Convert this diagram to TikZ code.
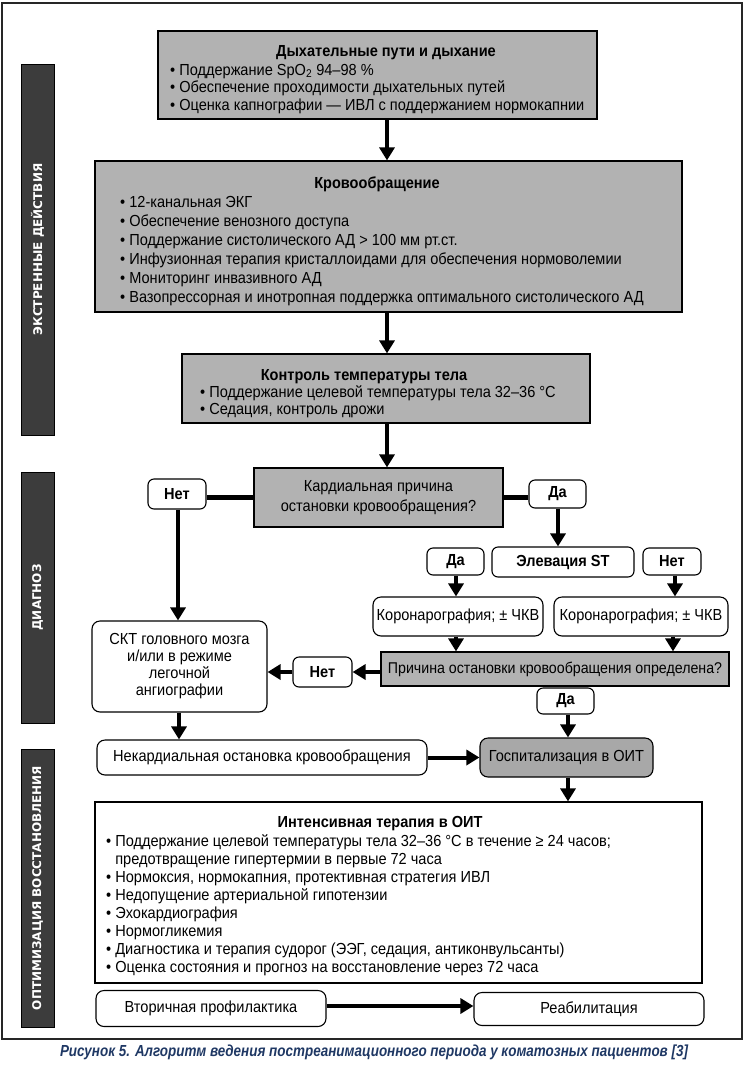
\documentclass[tikz,border=0pt]{standalone}
\usepackage{fontspec}
\setmainfont{Liberation Sans}[FakeStretch=0.91]
\newfontfamily\capfont{Liberation Sans}[FakeStretch=0.84]
\newfontfamily\sidefont{DejaVu Sans}
\usetikzlibrary{arrows.meta}
\definecolor{boxgray}{RGB}{178,178,178}
\definecolor{hospgray}{RGB}{168,168,168}
\definecolor{sidegray}{RGB}{60,60,60}
\definecolor{capblue}{RGB}{31,56,100}
\begin{document}
\begin{tikzpicture}[x=1pt,y=-1pt,
  gbox/.style={draw=black, line width=1.2pt, fill=boxgray, inner sep=0pt, rectangle},
  wbox/.style={draw=black, line width=1.2pt, fill=white, inner sep=0pt, rectangle},
  rbox/.style={draw=black, line width=1.1pt, fill=white, rounded corners=8pt, inner sep=0pt, align=center, font=\fontsize{16}{17}\selectfont},
  lbl/.style={draw=black, line width=1.1pt, fill=white, rounded corners=6pt, inner sep=0pt, font=\bfseries\fontsize{16}{17}\selectfont},
  side/.style={draw=black, line width=0.8pt, fill=sidegray, rotate=90, minimum height=33pt, inner sep=0pt, text=white, font=\sidefont\bfseries\fontsize{12}{13}\selectfont},
  txt/.style={inner sep=0pt, font=\fontsize{16}{17}\selectfont},
  ttl/.style={inner sep=0pt, font=\bfseries\fontsize{16}{17}\selectfont},
  arr/.style={line width=4pt, -{Triangle[width=15pt,length=13pt]}},
  link/.style={line width=5pt}
]
\useasboundingbox (0,0) rectangle (748,1072);
\draw[line width=1.3pt, draw=black!85] (2,3) rectangle (742,1039);

% sidebars
\node[side, minimum width=371pt] (s1) at (37.5,249.5) {ЭКСТРЕННЫЕ ДЕЙСТВИЯ};
\node[side, minimum width=251pt] (s2) at (37.5,597.5) {ДИАГНОЗ};
\node[side, minimum width=278pt] (s3) at (37.5,888) {ОПТИМИЗАЦИЯ ВОССТАНОВЛЕНИЯ};

% column coordinates
\coordinate (cA) at (387,0);

% box 1
\node[gbox, minimum width=439pt, minimum height=88pt] (b1) at (377.5,75) {};
\node[ttl, anchor=base] (b1t) at (386,56) {Дыхательные пути и дыхание};
\node[txt, anchor=base west] (b1l1) at (170,75) {\textbullet\ Поддержание SpO\textsubscript{2} 94–98 \%};
\node[txt, anchor=base west] (b1l2) at (170,92.5) {\textbullet\ Обеспечение проходимости дыхательных путей};
\node[txt, anchor=base west] (b1l3) at (170,110) {\textbullet\ Оценка капнографии — ИВЛ с поддержанием нормокапнии};

% box 2
\node[gbox, minimum width=587pt, minimum height=151pt] (b2) at (388.5,236.5) {};
\node[ttl, anchor=base] (b2t) at (377,188) {Кровообращение};
\foreach \t [count=\i] in {12-канальная ЭКГ, Обеспечение венозного доступа, Поддержание систолического АД > 100 мм рт.ст., Инфузионная терапия кристаллоидами для обеспечения нормоволемии, Мониторинг инвазивного АД, Вазопрессорная и инотропная поддержка оптимального систолического АД}
  \node[txt, anchor=base west] (b2l\i) at (120,{207.5+19*(\i-1)}) {\textbullet\ \t};

% box 3
\node[gbox, minimum width=408pt, minimum height=69pt] (b3) at (386,388.5) {};
\node[ttl, anchor=base] (b3t) at (364,380.5) {Контроль температуры тела};
\node[txt, anchor=base west] (b3l1) at (200,397.5) {\textbullet\ Поддержание целевой температуры тела 32–36 °C};
\node[txt, anchor=base west] (b3l2) at (200,414.5) {\textbullet\ Седация, контроль дрожи};

% decision
\node[gbox, minimum width=249pt, minimum height=59pt, align=center, font=\fontsize{16}{20}\selectfont] (dec) at (378.5,497.5) {Кардиальная причина\\остановки кровообращения?};
\node[lbl, minimum width=58pt, minimum height=30pt] (no1) at (177,494) {Нет};
\node[lbl, minimum width=57pt, minimum height=28pt] (yes1) at (557.5,494) {Да};
\node[lbl, minimum width=142pt, minimum height=30pt] (elev) at (563,562) {Элевация ST};
\node[lbl, minimum width=57pt, minimum height=27pt] (yes2) at (455.5,561.5) {Да};
\node[lbl, minimum width=58pt, minimum height=27pt] (no2) at (672,561.5) {Нет};
\node[rbox, minimum width=170pt, minimum height=39pt] (cor1) at (458,616.5) {Коронарография; ± ЧКВ};
\node[rbox, minimum width=174pt, minimum height=39pt] (cor2) at (641,616.5) {Коронарография; ± ЧКВ};
\node[gbox, minimum width=348pt, minimum height=34pt, font=\fontsize{15.6}{17}\selectfont] (cause) at (555,669) {Причина остановки кровообращения определена?};
\node[lbl, minimum width=59pt, minimum height=30pt] (no3) at (322.5,672) {Нет};
\node[rbox, minimum width=175pt, minimum height=91pt, font=\fontsize{16}{17}\selectfont] (skt) at (179.5,666.5) {СКТ головного мозга\\и/или в режиме\\легочной\\ангиографии};
\node[lbl, minimum width=57pt, minimum height=26pt] (yes3) at (565.5,701) {Да};
\node[rbox, minimum width=330pt, minimum height=35pt] (nonc) at (262,757.5) {Некардиальная остановка кровообращения};
\node[rbox, fill=hospgray, minimum width=173pt, minimum height=39pt] (hosp) at (566.5,757.5) {Госпитализация в ОИТ};

% ICU box
\node[wbox, minimum width=607pt, minimum height=181pt] (icu) at (398.5,892.5) {};
\node[ttl, anchor=base] (icut) at (380,827) {Интенсивная терапия в ОИТ};
\node[txt, anchor=base west] (icu1) at (106,846.5) {\textbullet\ Поддержание целевой температуры тела 32–36 °C в течение ≥ 24 часов;};
\node[txt, anchor=base west] (icu2) at (106,864.5) {\phantom{\textbullet\ }предотвращение гипертермии в первые 72 часа};
\node[txt, anchor=base west] (icu3) at (106,882.5) {\textbullet\ Нормоксия, нормокапния, протективная стратегия ИВЛ};
\node[txt, anchor=base west] (icu4) at (106,900.5) {\textbullet\ Недопущение артериальной гипотензии};
\node[txt, anchor=base west] (icu5) at (106,918.5) {\textbullet\ Эхокардиография};
\node[txt, anchor=base west] (icu6) at (106,936.5) {\textbullet\ Нормогликемия};
\node[txt, anchor=base west] (icu7) at (106,954.5) {\textbullet\ Диагностика и терапия судорог (ЭЭГ, седация, антиконвульсанты)};
\node[txt, anchor=base west] (icu8) at (106,972.5) {\textbullet\ Оценка состояния и прогноз на восстановление через 72 часа};

\node[rbox, minimum width=230pt, minimum height=36pt] (sec) at (211,1008.5) {Вторичная профилактика};
\node[rbox, minimum width=230pt, minimum height=33pt] (rehab) at (589,1009) {Реабилитация};

% caption
\node[inner sep=0pt, text=capblue, font=\capfont\bfseries\itshape\fontsize{16}{17}\selectfont] (cap) at (374,1052) {Рисунок 5. Алгоритм ведения постреанимационного периода у коматозных пациентов [3]};

% connectors
\draw[arr] (b1.south -| cA) -- (b2.north -| cA);
\draw[arr] (b2.south -| cA) -- (b3.north -| cA);
\draw[arr] (b3.south -| cA) -- (dec.north -| cA);
\draw[link] (dec.west) -- (dec.west -| no1.east);
\draw[link] (dec.east) -- (dec.east -| yes1.west);
\draw[arr] (no1.south -| 178,0) -- (skt.north -| 178,0);
\draw[arr] (yes1.south -| 558,0) -- (elev.north -| 558,0);
\draw[arr] (yes2.south -| 456,0) -- (cor1.north -| 456,0);
\draw[arr] (no2.south -| 675,0) -- (cor2.north -| 675,0);
\draw[arr] (cor1.south -| 456,0) -- (cause.north -| 456,0);
\draw[arr] (cor2.south -| 673,0) -- (cause.north -| 673,0);
\draw[arr] (cause.west |- no3.east) -- (no3.east);
\draw[arr] (no3.west) -- (skt.east |- no3.west);
\draw[arr] (yes3.south -| 568,0) -- (hosp.north -| 568,0);
\draw[arr] (skt.south -| 179,0) -- (nonc.north -| 179,0);
\draw[arr] (nonc.east) -- (hosp.west |- nonc.east);
\draw[arr] (hosp.south -| 568,0) -- (icu.north -| 568,0);
\draw[arr] (sec.east |- 0,1006) -- (rehab.west |- 0,1006);
\end{tikzpicture}
\end{document}
